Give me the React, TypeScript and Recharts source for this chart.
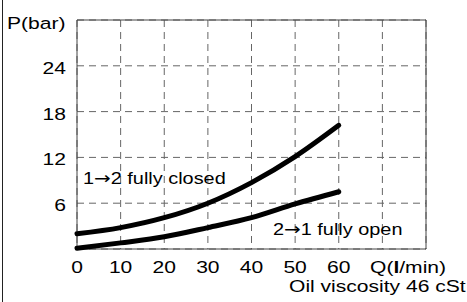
import { CartesianGrid, Customized, Line, LineChart, ReferenceArea, XAxis, YAxis } from "recharts";

const flow = [0, 10, 20, 30, 40, 50, 60];
const closedP = [2.0, 2.8, 4.1, 6.0, 8.7, 12.1, 16.2];
const openP = [0.1, 0.8, 1.6, 2.8, 4.1, 5.9, 7.5];
const xTicks = [0, 10, 20, 30, 40, 50, 60, 70, 80];
const xLabels = ["0", "10", "20", "30", "40", "50", "60", "", ""];
const yTicks = [0, 6, 12, 18, 24, 30];
const yLabels = ["", "6", "12", "18", "24", ""];

const data = flow.map((q, i) => ({ q, closed: closedP[i], open: openP[i] }));

const FONT = "'Liberation Sans', Arial, sans-serif";
const SX = 1.24; // source picture is stretched sideways

function Stretched({ x, y, anchor = "start", sx = SX, children }: any) {
  return (
    <g transform={`translate(${x},${y})`}>
      <text transform={`scale(${sx},1)`} textAnchor={anchor} fontFamily={FONT} fontSize={17} fill="#000">
        {children}
      </text>
    </g>
  );
}

const Arrow = () => <tspan fontFamily="'DejaVu Sans'">→</tspan>;

function XTick({ x, y, index }: any) {
  const t = xLabels[index];
  if (!t) return null;
  return <Stretched x={x} y={y + 24} anchor="middle">{t}</Stretched>;
}

function YTick({ x, y, index }: any) {
  const t = yLabels[index];
  if (!t) return null;
  return <Stretched x={x} y={y + 8} anchor="end">{t}</Stretched>;
}

function Annotations() {
  return (
    <g>
      <Stretched x={7} y={29}>P(bar)</Stretched>
      <Stretched x={83} y={184} sx={1.17}>1<Arrow />2 fully closed</Stretched>
      <Stretched x={273} y={235} sx={1.17}>2<Arrow />1 fully open</Stretched>
      <Stretched x={370} y={273}>
        Q(<tspan fontWeight="bold">l</tspan>/min)
      </Stretched>
      <Stretched x={289} y={292}>Oil viscosity 46 cSt</Stretched>
    </g>
  );
}

export default function App() {
  return (
    <div style={{ position: "relative", width: 467, height: 302, background: "#fff" }}>
      <style>{"body{margin:0}"}</style>
      <div style={{ position: "absolute", left: 2, top: 0, width: 1, height: 302, background: "#222" }} />
      <LineChart width={467} height={302} data={data} margin={{ top: 20, right: 41, left: 0, bottom: 0 }}>
        <CartesianGrid stroke="#666" strokeDasharray="7 5" />
        <XAxis
          dataKey="q"
          type="number"
          domain={[0, 80]}
          ticks={xTicks}
          height={53}
          axisLine={false}
          tickLine={false}
          tickSize={0}
          tickMargin={0}
          tick={<XTick />}
          interval={0}
        />
        <YAxis
          type="number"
          domain={[0, 30]}
          ticks={yTicks}
          width={77}
          axisLine={false}
          tickLine={false}
          tickSize={0}
          tickMargin={11}
          tick={<YTick />}
          interval={0}
        />
        <ReferenceArea x1={0} x2={80} y1={0} y2={30} fill="none" stroke="#444" strokeWidth={1} />
        <Line type="monotone" dataKey="closed" stroke="#000" strokeWidth={5} strokeLinecap="round" dot={false} isAnimationActive={false} />
        <Line type="monotone" dataKey="open" stroke="#000" strokeWidth={5} strokeLinecap="round" dot={false} isAnimationActive={false} />
        <Customized component={Annotations} />
      </LineChart>
    </div>
  );
}
